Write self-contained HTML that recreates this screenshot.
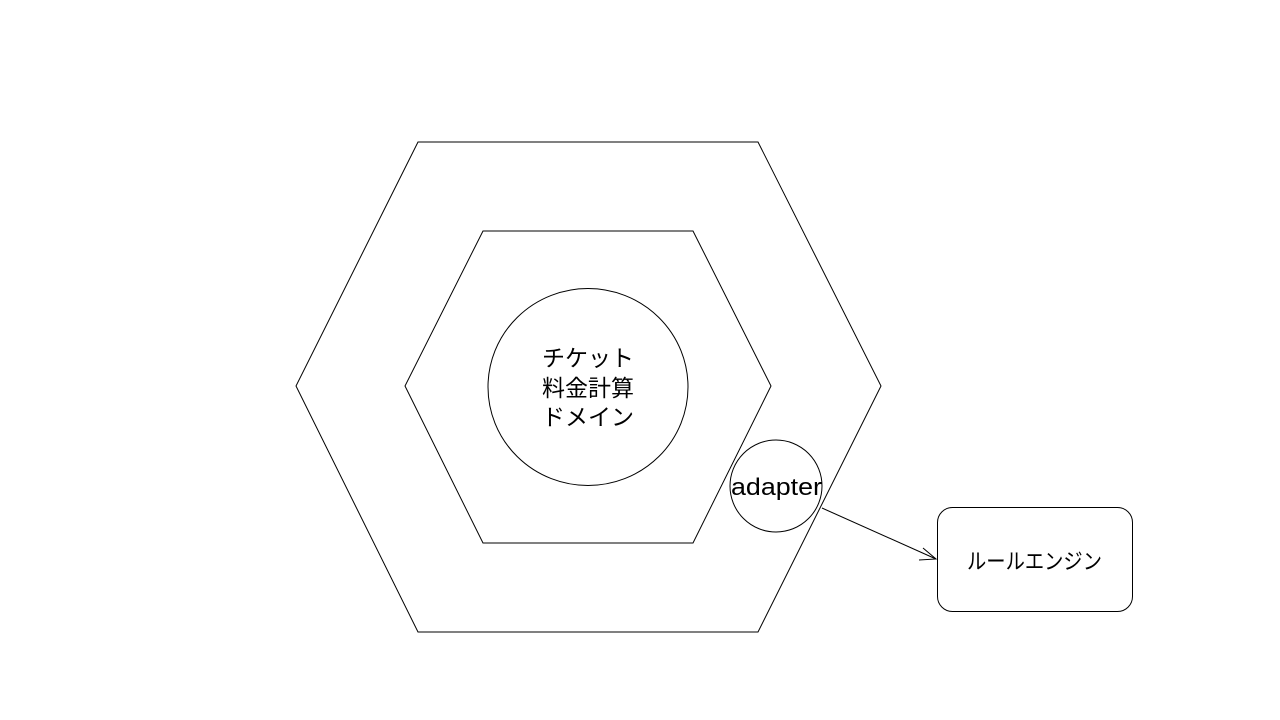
<!DOCTYPE html>
<html><head><meta charset="utf-8"><style>
html,body{margin:0;padding:0;background:#fff;}
svg{display:block;}
text{font-family:"Liberation Sans","Noto Sans CJK JP",sans-serif;font-size:23px;fill:#000;}
</style></head><body>
<svg width="1280" height="720" viewBox="0 0 1280 720" xmlns="http://www.w3.org/2000/svg">
<rect width="1280" height="720" fill="#fff"/>
<polygon points="418,142 758,142 881,386 758,632 418,632 296,386" fill="none" stroke="#000" stroke-width="1"/>
<polygon points="483,231 693,231 771,386 693,543 483,543 405,386" fill="none" stroke="#000" stroke-width="1"/>
<ellipse cx="588" cy="387" rx="100" ry="98.5" fill="#fff" stroke="#000" stroke-width="1"/>
<text x="588" y="366" text-anchor="middle">チケット</text>
<text x="588" y="396" text-anchor="middle">料金計算</text>
<text x="588" y="425" text-anchor="middle">ドメイン</text>
<ellipse cx="776" cy="486" rx="46" ry="46" fill="#fff" stroke="#000" stroke-width="1"/>
<text x="731" y="495" textLength="91" lengthAdjust="spacingAndGlyphs" style="font-size:24px">adapter</text>
<line x1="822" y1="508" x2="936" y2="559" stroke="#000" stroke-width="1"/>
<polyline points="923,548 936,559 919,560" fill="none" stroke="#000" stroke-width="1"/>
<rect x="937.5" y="507.5" width="195" height="104" rx="15" ry="15" fill="#fff" stroke="#000" stroke-width="1"/>
<text x="967" y="569" textLength="135" lengthAdjust="spacingAndGlyphs" style="font-size:22px">ルールエンジン</text>
</svg>
</body></html>
